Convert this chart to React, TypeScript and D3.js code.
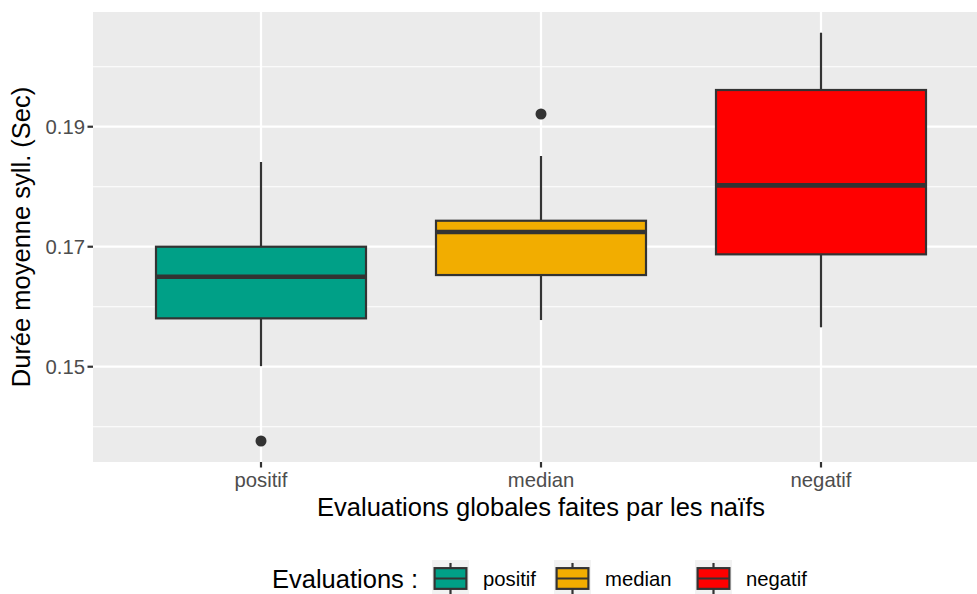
import React from "react";
import * as d3 from "d3";

const categories = ["positif", "median", "negatif"];
const colors = ["#00A087", "#F2AD00", "#FF0000"];
const whiskerLow = [0.1501, 0.15778, 0.15657];
const q1 = [0.15806, 0.16528, 0.16873];
const medians = [0.165, 0.17245, 0.18023];
const q3 = [0.17, 0.17433, 0.19612];
const whiskerHigh = [0.18412, 0.18512, 0.20567];
const outliers = [[0.13762], [0.19212], []];
const yMajorTicks = [0.15, 0.17, 0.19];
const yMinorTicks = [0.14, 0.16, 0.18, 0.2];

const W = 977;
const H = 594;
const panel = { left: 93, top: 12, bottom: 462 };
const FONT = "'Liberation Sans', Arial, sans-serif";
const TITLE_SIZE = 25.5;
const TICK_SIZE = 20.3;

export default function App() {
  const y = d3.scaleLinear().domain([0.13412, 0.20912]).range([panel.bottom, panel.top]);
  const step = 280;
  const x = d3.scaleLinear().domain([0.4, 3.6]).range([panel.left, panel.left + 3.2 * step]);
  const boxW = 0.75 * step;
  const ink = "#333333";

  const legendItems = [
    { key: 432, label: 483 },
    { key: 554, label: 605 },
    { key: 695, label: 746 },
  ];
  const legY = 560;
  const keyS = 37;

  return (
    <svg width={W} height={H} style={{ position: "absolute", left: 0, top: 0, background: "#fff" }}>
      <defs>
        <clipPath id="pc">
          <rect x={panel.left} y={panel.top} width={W - panel.left} height={panel.bottom - panel.top} />
        </clipPath>
      </defs>
      <rect x={panel.left} y={panel.top} width={W - panel.left} height={panel.bottom - panel.top} fill="#EBEBEB" />
      <g clipPath="url(#pc)">
        {yMinorTicks.map((t) => (
          <line key={"mn" + t} x1={panel.left} x2={W} y1={y(t)} y2={y(t)} stroke="#fff" strokeWidth={1.1} />
        ))}
        {yMajorTicks.map((t) => (
          <line key={"mj" + t} x1={panel.left} x2={W} y1={y(t)} y2={y(t)} stroke="#fff" strokeWidth={2.2} />
        ))}
        {categories.map((c, i) => (
          <line key={"vx" + c} x1={x(i + 1)} x2={x(i + 1)} y1={panel.top} y2={panel.bottom} stroke="#fff" strokeWidth={2.2} />
        ))}
        {categories.map((c, i) => {
          const cx = x(i + 1);
          return (
            <g key={"box" + c}>
              <line x1={cx} x2={cx} y1={y(whiskerHigh[i])} y2={y(q3[i])} stroke={ink} strokeWidth={2.2} />
              <line x1={cx} x2={cx} y1={y(q1[i])} y2={y(whiskerLow[i])} stroke={ink} strokeWidth={2.2} />
              <rect
                x={cx - boxW / 2}
                y={y(q3[i])}
                width={boxW}
                height={y(q1[i]) - y(q3[i])}
                fill={colors[i]}
                stroke={ink}
                strokeWidth={2.2}
              />
              <line x1={cx - boxW / 2} x2={cx + boxW / 2} y1={y(medians[i])} y2={y(medians[i])} stroke={ink} strokeWidth={4.6} />
              {outliers[i].map((o, j) => (
                <circle key={j} cx={cx} cy={y(o)} r={5.5} fill={ink} />
              ))}
            </g>
          );
        })}
      </g>
      {/* y axis */}
      {yMajorTicks.map((t) => (
        <g key={"yt" + t}>
          <line x1={panel.left - 5.5} x2={panel.left} y1={y(t)} y2={y(t)} stroke={ink} strokeWidth={2.2} />
          <text x={panel.left - 8} y={y(t)} dy="0.35em" textAnchor="end" fontFamily={FONT} fontSize={TICK_SIZE} fill="#4D4D4D">
            {d3.format(".2f")(t)}
          </text>
        </g>
      ))}
      <text
        transform={`translate(30, ${(panel.top + panel.bottom) / 2}) rotate(-90)`}
        textAnchor="middle"
        fontFamily={FONT}
        fontSize={TITLE_SIZE}
        fill="#000"
      >
        Durée moyenne syll. (Sec)
      </text>
      {/* x axis */}
      {categories.map((c, i) => (
        <g key={"xt" + c}>
          <line x1={x(i + 1)} x2={x(i + 1)} y1={panel.bottom} y2={panel.bottom + 5.5} stroke={ink} strokeWidth={2.2} />
          <text x={x(i + 1)} y={panel.bottom + 25} textAnchor="middle" fontFamily={FONT} fontSize={TICK_SIZE} fill="#4D4D4D">
            {c}
          </text>
        </g>
      ))}
      <text x={(panel.left + panel.left + 3.2 * step) / 2} y={516} textAnchor="middle" fontFamily={FONT} fontSize={TITLE_SIZE} fill="#000">
        Evaluations globales faites par les naïfs
      </text>
      {/* legend */}
      <text x={272} y={579} dy="0.35em" fontFamily={FONT} fontSize={TITLE_SIZE} fill="#000">
        Evaluations :
      </text>
      {categories.map((c, i) => {
        const kx = legendItems[i].key;
        const kcx = kx + keyS / 2;
        return (
          <g key={"lg" + c}>
            <rect x={kx} y={legY} width={keyS} height={keyS} fill="#F2F2F2" />
            <line x1={kcx} x2={kcx} y1={legY + keyS * 0.08} y2={legY + keyS * 0.92} stroke={ink} strokeWidth={2.2} />
            <rect
              x={kx + keyS * 0.07}
              y={legY + keyS * 0.22}
              width={keyS * 0.86}
              height={keyS * 0.56}
              fill={colors[i]}
              stroke={ink}
              strokeWidth={2.2}
            />
            <line x1={kx + keyS * 0.07} x2={kx + keyS * 0.93} y1={legY + keyS / 2} y2={legY + keyS / 2} stroke={ink} strokeWidth={2.2} />
            <text x={legendItems[i].label} y={579} dy="0.35em" fontFamily={FONT} fontSize={TICK_SIZE} fill="#000">
              {c}
            </text>
          </g>
        );
      })}
    </svg>
  );
}
